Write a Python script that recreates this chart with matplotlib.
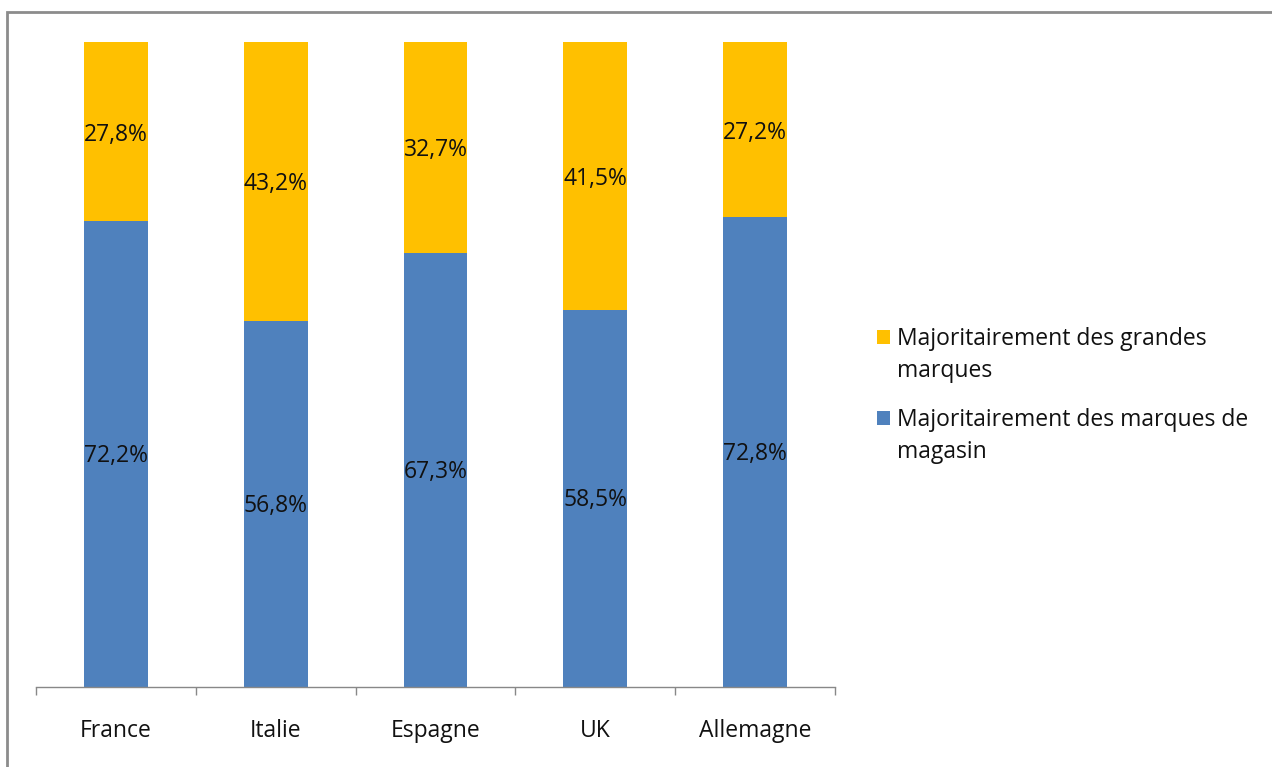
import matplotlib
matplotlib.use("Agg")
import matplotlib.pyplot as plt
from matplotlib.patches import Rectangle
import numpy as np

countries = ["France", "Italie", "Espagne", "UK", "Allemagne"]
store_brands = [72.2, 56.8, 67.3, 58.5, 72.8]
big_brands = [27.8, 43.2, 32.7, 41.5, 27.2]
series_names = ["Majoritairement des grandes\nmarques",
                "Majoritairement des marques de\nmagasin"]

blue = "#4F81BD"
yellow = "#FFC000"
plt.rcParams["font.family"] = ["Open Sans", "DejaVu Sans"]
FS = 16.5
W, H = 1272, 767

fig = plt.figure(figsize=(W / 100, H / 100), dpi=100)
ax = fig.add_axes([36 / W, 80 / H, 799 / W, 645 / H])

x = np.arange(len(countries))
ax.bar(x, store_brands, width=0.4, color=blue)
ax.bar(x, big_brands, width=0.4, bottom=store_brands, color=yellow)

for xi, s, b in zip(x, store_brands, big_brands):
    ax.annotate(f"{s:.1f}%".replace(".", ","), (xi, s / 2), xytext=(0, -2),
                textcoords="offset pixels", ha="center", va="center",
                fontsize=FS, color="#111111")
    ax.annotate(f"{b:.1f}%".replace(".", ","), (xi, s + b / 2), xytext=(0, -3),
                textcoords="offset pixels", ha="center", va="center",
                fontsize=FS, color="#111111")

ax.set_xlim(-0.5, len(countries) - 0.5)
ax.set_ylim(0, 100)
ax.set_yticks([])
for side in ("top", "right", "left"):
    ax.spines[side].set_visible(False)
ax.spines["bottom"].set_color("#888888")
ax.spines["bottom"].set_linewidth(1)

ax.set_xticks(x)
ax.set_xticklabels(countries, fontsize=FS, color="#111111")
ax.tick_params(axis="x", which="major", length=0, pad=23)
ax.set_xticks(np.arange(-0.5, len(countries)), minor=True)
ax.tick_params(axis="x", which="minor", length=6, color="#888888", width=1)

# Legend: square swatch aligned with the first line of each wrapped label
legend_top = [330, 411]
line_step = 32
for top, name, color in zip(legend_top, series_names, [yellow, blue]):
    fig.patches.append(Rectangle((877 / W, 1 - (top + 14) / H), 13 / W, 14 / H,
                                 transform=fig.transFigure, facecolor=color,
                                 edgecolor="none"))
    for i, line in enumerate(name.split("\n")):
        fig.text(897 / W, 1 - (top + 15 + i * line_step) / H, line,
                 ha="left", va="baseline", fontsize=FS, color="#111111")

fig.patches.append(Rectangle((7 / W, -0.05), 1.2, 1 - 12 / H + 0.05,
                             transform=fig.transFigure, fill=False,
                             edgecolor="#8c8c8c", linewidth=2))

fig.savefig("out.png", dpi=100)
